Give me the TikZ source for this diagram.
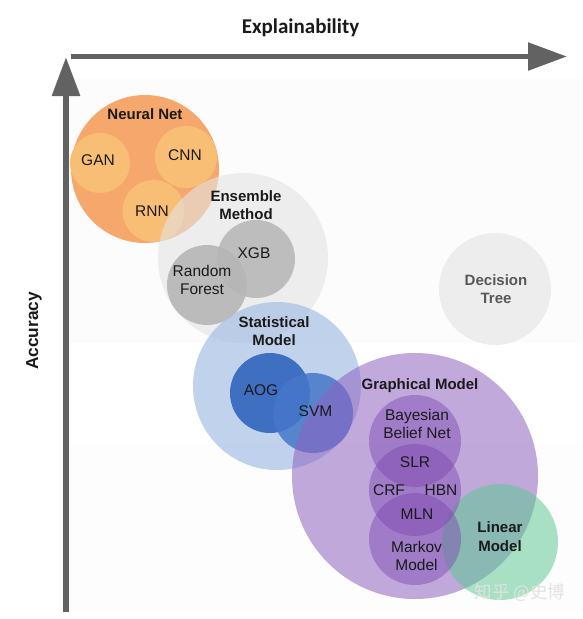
\documentclass[tikz,border=0pt]{standalone}
\usepackage{fontspec}
\setmainfont{Liberation Sans}
\newfontfamily\calfont{Carlito}
\newfontfamily\cjkfont{Noto Sans CJK SC}
\usetikzlibrary{arrows.meta}
\definecolor{axisgray}{HTML}{626262}
\definecolor{txt}{HTML}{1A1A1A}
\definecolor{dtxt}{HTML}{585858}
\definecolor{nnc}{HTML}{F5A76C}
\definecolor{nnin}{HTML}{F9BE76}
\definecolor{ensc}{HTML}{E3E3E3}
\definecolor{xgbc}{HTML}{BDBDBD}
\definecolor{rfc}{HTML}{B6B6B6}
\definecolor{dtc}{HTML}{EDEDED}
\definecolor{statc}{HTML}{A6BFE5}
\definecolor{aogc}{HTML}{3F6FC1}
\definecolor{svmc}{HTML}{4677CA}
\definecolor{gmc}{HTML}{8E63C0}
\definecolor{gmin}{HTML}{7B45B0}
\definecolor{linc}{HTML}{5BC890}
\definecolor{bga}{HTML}{FCFCFC}
\definecolor{bgb}{HTML}{FDFDFD}
\definecolor{wmc}{HTML}{E2E2E2}
\begin{document}
\begin{tikzpicture}[x=1pt,y=-1pt,
  axis/.style={draw=axisgray, line width=5.5pt, -{Triangle[length=39pt,width=27pt]}},
  lbl/.style={font=\fontsize{15.5}{18.5}\selectfont, text=txt, inner sep=0pt, align=center},
  blbl/.style={lbl, font=\bfseries\fontsize{15}{18.5}\selectfont},
  bubble/.style={circle, inner sep=0pt, minimum size=#1}]
\useasboundingbox (0,0) rectangle (582,619);
% faint background panels
\fill[bga] (70,79) rectangle (582,343);
\fill[bgb] (70,443) rectangle (582,612);
% axes
\coordinate (xo) at (71,56.5);
\coordinate (xe) at (567,56.5);
\coordinate (yo) at (66,612);
\coordinate (ye) at (66,57);
\draw[axis] (xo) -- (xe);
\draw[axis, line width=6pt] (yo) -- (ye);
% neural net
\node[bubble=148pt, fill=nnc] (cnn0) at (145,169) {};
\node[bubble=60pt, fill=nnin] (cgan) at (100,163) {};
\node[bubble=62pt, fill=nnin] (ccnn) at (186,157) {};
\node[bubble=62pt, fill=nnin] (crnn) at (153.5,211) {};
% ensemble
\node[bubble=170pt, fill=ensc, fill opacity=0.6] (cens) at (243,258) {};
\node[bubble=78pt, fill=xgbc] (cxgb) at (256,259) {};
\node[bubble=80pt, fill=rfc, fill opacity=0.9] (crf) at (207,285) {};
% decision tree
\node[bubble=112pt, fill=dtc] (cdt) at (495,289) {};
% statistical
\node[bubble=168pt, fill=statc, fill opacity=0.7] (cstat) at (277,386) {};
\node[bubble=80pt, fill=aogc] (caog) at (270,393) {};
\node[bubble=80pt, fill=svmc, fill opacity=0.85] (csvm) at (313,413) {};
% graphical
\node[bubble=246pt, fill=gmc, fill opacity=0.55] (cgm) at (415,476) {};
\node[bubble=116pt, fill=linc, fill opacity=0.53] (clin) at (500,542) {};
\node[bubble=92pt, fill=gmin, fill opacity=0.45] (cbbn) at (415,441) {};
\node[bubble=92pt, fill=gmin, fill opacity=0.45] (cmid) at (415,490) {};
\node[bubble=92pt, fill=gmin, fill opacity=0.45] (cmm) at (415,539) {};
% labels
\node[font=\calfont\bfseries\fontsize{21}{24}\selectfont, text=txt, inner sep=0pt] (xlab) at (300.5,28) {Explainability};
\node[font=\bfseries\fontsize{17.3}{20}\selectfont, text=txt, inner sep=0pt, rotate=90] (ylab) at (34,331) {Accuracy};
\node[blbl] (nn) at (145,114) {Neural Net};
\node[lbl] (gan) at (98,160) {GAN};
\node[lbl] (cnn) at (185,155) {CNN};
\node[lbl] (rnn) at (152,211) {RNN};
\node[blbl] (ens) at (246,205) {Ensemble\\Method};
\node[lbl] (xgb) at (254,253) {XGB};
\node[lbl] (rf) at (202,280) {Random\\Forest};
\node[blbl, text=dtxt] (dt) at (496,289) {Decision\\Tree};
\node[blbl] (stat) at (274,331) {Statistical\\Model};
\node[lbl] (aog) at (261,390) {AOG};
\node[lbl] (svm) at (315.5,411) {SVM};
\node[blbl] (gm) at (420,385.3) {Graphical Model};
\node[lbl] (bbn) at (417,424) {Bayesian\\Belief Net};
\node[lbl] (slr) at (415,462.5) {SLR};
\node[lbl] (crf) at (389,490) {CRF};
\node[lbl] (hbn) at (441,490) {HBN};
\node[lbl] (mln) at (417,514) {MLN};
\node[lbl] (mm) at (416.5,556) {Markov\\Model};
\node[blbl] (lm) at (500,536.5) {Linear\\Model};
\node[font=\cjkfont\fontsize{17.5}{20}\selectfont, text=wmc, inner sep=0pt] (wm) at (520,592.5) {知乎 @史博};
\end{tikzpicture}
\end{document}
